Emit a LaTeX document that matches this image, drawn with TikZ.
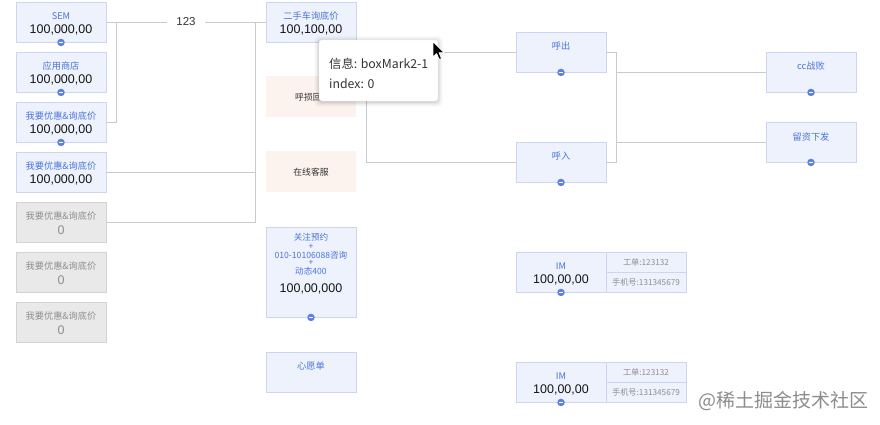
\documentclass[tikz,border=0pt]{standalone}
\usepackage{fontspec}
\setmainfont{Noto Sans CJK SC}
\newfontfamily\numfont{Liberation Sans}
\usetikzlibrary{calc}
\definecolor{bfill}{HTML}{EEF2FD}
\definecolor{bdr}{HTML}{CDD5F0}
\definecolor{gfill}{HTML}{E9E9E9}
\definecolor{gbdr}{HTML}{D3D3D3}
\definecolor{gtext}{HTML}{8E8E8E}
\definecolor{pfill}{HTML}{FCF3EE}
\definecolor{lblue}{HTML}{4A74DA}
\definecolor{pblue}{HTML}{5B80E6}
\definecolor{linec}{HTML}{C8CACF}
\definecolor{numc}{HTML}{151515}
\definecolor{darkt}{HTML}{333333}
\begin{document}
\begin{tikzpicture}[x=1pt,y=-1pt,
  box/.style={draw=bdr, line width=0.9pt, fill=bfill, minimum width=90pt, minimum height=40pt, inner sep=0pt},
  gbox/.style={box, draw=gbdr, fill=gfill},
  pbox/.style={box, draw=none, fill=pfill},
  lbl/.style={font=\fontsize{9.2}{11}\selectfont, text=lblue, inner sep=0pt},
  glbl/.style={lbl, text=gtext},
  dlbl/.style={lbl, text=darkt, font=\fontsize{8.8}{10}\selectfont},
  num/.style={font=\numfont\fontsize{12.5}{14}\selectfont, text=numc, inner sep=0pt},
  gnum/.style={num, text=gtext},
  small/.style={font=\fontsize{8.2}{10}\selectfont, text=gtext, inner sep=0pt},
  cell/.style={draw=bdr, line width=0.9pt, fill=bfill, minimum width=80pt, minimum height=20pt, inner sep=0pt},
  plusc/.style={circle, fill=pblue, minimum size=7.5pt, inner sep=0pt,
    path picture={\draw[white,line width=1.3pt] ([xshift=-2.2pt]path picture bounding box.center) -- ([xshift=2.2pt]path picture bounding box.center);}},
  conn/.style={draw=linec, line width=0.9pt},
  tiptext/.style={font=\fontsize{12.3}{14}\selectfont, text=darkt, inner sep=0pt, anchor=west}
]
\useasboundingbox (0,0) rectangle (880,425);
\fill[white] (0,0) rectangle (880,425);

% ---------- boxes: left column ----------
\node[box] (sem) at (61,22) {};
\node[box] (app) at (61,72) {};
\node[box] (yh1) at (61,122) {};
\node[box] (yh2) at (61,172) {};
\node[gbox] (g1) at (61,222) {};
\node[gbox] (g2) at (61,272) {};
\node[gbox] (g3) at (61,322) {};

% ---------- middle column ----------
\node[box] (esc) at (311,22) {};
\node[pbox, minimum height=41pt] (hs) at (311,96.5) {};
\node[pbox, minimum height=41pt] (zx) at (311,171.5) {};
\node[box, minimum height=90pt] (gz) at (311,272) {};
\node[box] (xy) at (311,372) {};

% ---------- right group ----------
\node[box] (hc) at (561,52) {};
\node[box] (hr) at (561,162) {};
\node[box] (cc) at (811,72) {};
\node[box] (lz) at (811,142) {};
\node[box] (im1) at (561,272) {};
\node[cell] (im1a) at (646,262) {};
\node[cell] (im1b) at (646,282) {};
\node[box] (im2) at (561,382) {};
\node[cell] (im2a) at (646,372) {};
\node[cell] (im2b) at (646,392) {};

% ---------- connectors ----------
\coordinate (j1) at (116,22);
\coordinate (j1b) at (116,122);
\coordinate (j2) at (255,22);
\coordinate (j2b) at (255,222);
\coordinate (j3a) at (366,52);
\coordinate (j3b) at (366,162);
\coordinate (j3m) at (366,96.5);
\coordinate (j4a) at (616,52);
\coordinate (j4b) at (616,162);
\coordinate (j4c) at (616,72);
\coordinate (j4d) at (616,142);
\draw[conn] (sem.east) -- (j1) -- (j1b) -- (yh1.east);
\draw[conn] (j1) -- (esc.west);
\node[fill=white, inner xsep=9pt, inner ysep=1pt, font=\numfont\fontsize{11.5}{13}\selectfont, text=darkt] (l123) at (186,22) {123};
\draw[conn] (j2) -- (j2b) -- (g1.east);
\draw[conn] (yh2.east) -- (yh2.east -| j2);
\draw[conn] (hs.east) -- (j3m);
\draw[conn] (hc.west) -- (j3a) -- (j3b) -- (hr.west);
\draw[conn] (hc.east) -- (j4a) -- (j4b) -- (hr.east);
\draw[conn] (j4c) -- (cc.west);
\draw[conn] (j4d) -- (lz.west);

% ---------- texts ----------
\node[lbl] (sem-l) at (61,16) {SEM};
\node[num] (sem-n) at (61,30) {100,000,00};
\node[lbl] (app-l) at (61,66) {应用商店};
\node[num] (app-n) at (61,80) {100,000,00};
\node[lbl] (yh1-l) at (61,116) {我要优惠\&询底价};
\node[num] (yh1-n) at (61,130) {100,000,00};
\node[lbl] (yh2-l) at (61,166) {我要优惠\&询底价};
\node[num] (yh2-n) at (61,180) {100,000,00};
\node[glbl] (g1-l) at (61,216) {我要优惠\&询底价};
\node[gnum] (g1-n) at (61,230) {0};
\node[glbl] (g2-l) at (61,266) {我要优惠\&询底价};
\node[gnum] (g2-n) at (61,280) {0};
\node[glbl] (g3-l) at (61,316) {我要优惠\&询底价};
\node[gnum] (g3-n) at (61,330) {0};

\node[lbl] (esc-l) at (311,16.5) {二手车询底价};
\node[num] (esc-n) at (311,30) {100,100,00};
\node[dlbl, anchor=west] (hs-l) at (295,97) {呼损回};
\node[dlbl] (zx-l) at (311,172) {在线客服};
\node[lbl, font=\fontsize{8.6}{10}\selectfont] (gz-1) at (311,237.7) {关注预约};
\node[lbl, font=\fontsize{8.6}{10}\selectfont] (gz-2) at (311,247) {+};
\node[lbl, font=\fontsize{8.6}{10}\selectfont] (gz-3) at (311,255) {010-10106088咨询};
\node[lbl, font=\fontsize{8.6}{10}\selectfont] (gz-4) at (311,263) {+};
\node[lbl, font=\fontsize{8.6}{10}\selectfont] (gz-5) at (311,271) {动态400};
\node[num] (gz-n) at (311,289) {100,00,000};
\node[lbl] (xy-l) at (311,366) {心愿单};

\node[lbl] (hc-l) at (561,46) {呼出};
\node[lbl] (hr-l) at (561,156.5) {呼入};
\node[lbl] (cc-l) at (811,66.5) {cc战败};
\node[lbl] (lz-l) at (811,136.5) {留资下发};
\node[lbl] (im1-l) at (561,266.5) {IM};
\node[num] (im1-n) at (561,280) {100,00,00};
\node[small] (im1a-t) at (646,262) {工单:123132};
\node[small] (im1b-t) at (646,282) {手机号:131345679};
\node[lbl] (im2-l) at (561,376.5) {IM};
\node[num] (im2-n) at (561,390) {100,00,00};
\node[small] (im2a-t) at (646,372) {工单:123132};
\node[small] (im2b-t) at (646,392) {手机号:131345679};

% ---------- expand icons ----------
\node[plusc] (sem-p) at (sem.south) {};
\node[plusc] (app-p) at (app.south) {};
\node[plusc] (yh1-p) at (yh1.south) {};
\node[plusc] (gz-p) at (gz.south) {};
\node[plusc] (hc-p) at (hc.south) {};
\node[plusc] (hr-p) at (hr.south) {};
\node[plusc] (cc-p) at (cc.south) {};
\node[plusc] (lz-p) at (lz.south) {};
\node[plusc] (im1-p) at (im1.south) {};
\node[plusc] (im2-p) at (im2.south) {};

% ---------- tooltip ----------
\foreach \i/\o in {5/0.015,4/0.02,3/0.03,2/0.04,1/0.05}{
  \fill[black, opacity=\o, rounded corners=4pt] (319-\i,40-\i+1) rectangle (438+\i,101+\i+1);
}
\node[draw=black!6, fill=white, rounded corners=3pt, minimum width=119pt, minimum height=61pt, inner sep=0pt] (tip) at (378.5,70.5) {};
\node[tiptext] (tip-1) at (329,64) {信息: boxMark2-1};
\node[tiptext] (tip-2) at (329,84) {index: 0};

% ---------- cursor ----------
\filldraw[fill=black, draw=white, line width=0.8pt, line join=round]
  (433,41.5) -- (433,57) -- (436.6,53.6) -- (439.2,59.6) -- (441.6,58.6) -- (439.1,52.7) -- (444,52.7) -- cycle;

% ---------- watermark ----------
\node[font=\fontsize{19}{21}\selectfont, text=black!45, inner sep=0pt] (wm) at (783.5,401.5) {@稀土掘金技术社区};
\end{tikzpicture}
\end{document}
